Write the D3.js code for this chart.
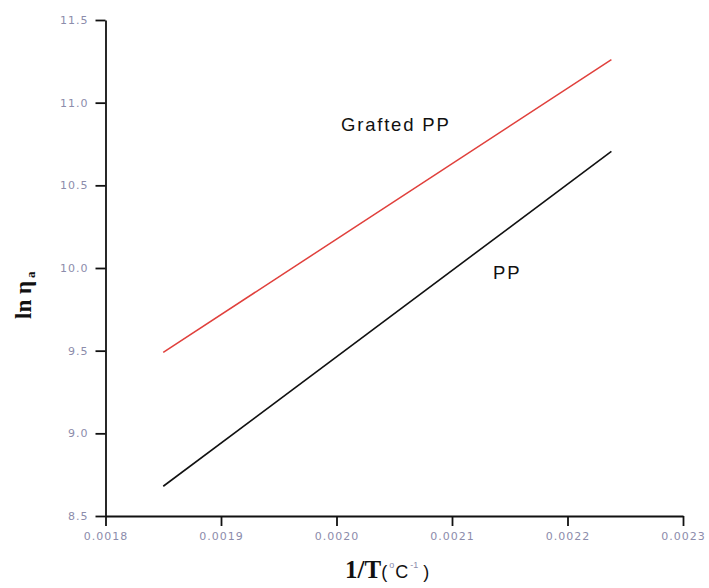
<!DOCTYPE html>
<html><head><meta charset="utf-8">
<script src="https://cdn.jsdelivr.net/npm/d3@7"></script>
<style>body{margin:0;background:#fff}svg{display:block}</style>
</head><body>
<svg id="c" width="709" height="588"></svg>
<script>
const xTicks = [0.0018, 0.0019, 0.0020, 0.0021, 0.0022, 0.0023];
const xTickLabels = ["0.0018", "0.0019", "0.0020", "0.0021", "0.0022", "0.0023"];
const yTicks = [8.5, 9.0, 9.5, 10.0, 10.5, 11.0, 11.5];
const yTickLabels = ["8.5", "9.0", "9.5", "10.0", "10.5", "11.0", "11.5"];
const invT = [0.00185, 0.002238];
const graftedPP = [9.49, 11.26];
const pp = [8.68, 10.705];
const seriesNames = ["Grafted PP", "PP"];

const svg = d3.select("#c");
const x = d3.scaleLinear().domain([0.0018, 0.0023]).range([105.5, 683]);
const y = d3.scaleLinear().domain([8.5, 11.5]).range([516, 20]);

const xMinor = [0.00185, 0.00195, 0.00205, 0.00215, 0.00225];
const yMinor = [8.75, 9.25, 9.75, 10.25, 10.75, 11.25];

const gx = svg.append("g").attr("transform", "translate(0,516)");
gx.call(d3.axisBottom(x).tickValues(xMinor).tickSize(5).tickFormat("")).call(g=>g.select(".domain").remove());
gx.call(d3.axisBottom(x).tickValues(xTicks).tickSize(10).tickSizeOuter(0).tickPadding(6)
  .tickFormat((d,i)=>xTickLabels[i]));
const gy = svg.append("g").attr("transform", "translate(105.5,0)");
gy.call(d3.axisLeft(y).tickValues(yMinor).tickSize(6).tickFormat("")).call(g=>g.select(".domain").remove());
gy.call(d3.axisLeft(y).tickValues(yTicks).tickSize(10).tickSizeOuter(0).tickPadding(7)
  .tickFormat((d,i)=>yTickLabels[i]));

svg.selectAll(".domain").attr("stroke", "#111").attr("stroke-width", 1.8);
svg.selectAll(".tick line").attr("stroke", "#111").attr("stroke-width", 1.8);
svg.selectAll(".tick text").attr("fill", "#8c8cab").attr("font-family", "DejaVu Sans, sans-serif")
  .attr("font-size", 11).attr("letter-spacing", "1px");

const line = d3.line().x(d => x(d[0])).y(d => y(d[1]));
svg.append("path").datum(invT.map((v,i)=>[v, graftedPP[i]])).attr("d", line)
  .attr("fill", "none").attr("stroke", "#e0403c").attr("stroke-width", 1.5);
svg.append("path").datum(invT.map((v,i)=>[v, pp[i]])).attr("d", line)
  .attr("fill", "none").attr("stroke", "#111").attr("stroke-width", 1.6);

svg.append("text").attr("x", 341).attr("y", 130.5).text(seriesNames[0])
  .attr("font-family", "Liberation Sans, Arial, sans-serif").attr("font-size", 18.5)
  .attr("letter-spacing", "1.8px").attr("fill", "#111");
svg.append("text").attr("x", 493).attr("y", 279).text(seriesNames[1])
  .attr("font-family", "Liberation Sans, Arial, sans-serif").attr("font-size", 18.5)
  .attr("letter-spacing", "1.8px").attr("fill", "#111");

// y title
const yt = svg.append("text").attr("transform", "translate(31,319) rotate(-90)")
  .attr("font-family", "Liberation Serif, DejaVu Serif, serif").attr("font-weight", "bold")
  .attr("font-size", 23).attr("fill", "#111");
yt.append("tspan").text("ln η");
yt.append("tspan").text("a").attr("font-size", 13).attr("dy", 4).attr("dx", 3);

// x title
const xt = svg.append("text").attr("x", 345).attr("y", 578).attr("fill", "#111");
xt.append("tspan").text("1/T").attr("font-family", "Liberation Serif, DejaVu Serif, serif")
  .attr("font-weight", "bold").attr("font-size", 25);
xt.append("tspan").text("(").attr("font-family", "Liberation Sans, sans-serif").attr("font-size", 18);
xt.append("tspan").text("o").attr("font-family", "Liberation Sans, sans-serif").attr("font-size", 9)
  .attr("dy", -10).attr("dx", 2).attr("fill", "#8c8cab");
xt.append("tspan").text("C").attr("font-family", "Liberation Sans, sans-serif").attr("font-size", 18)
  .attr("dy", 10).attr("dx", 1);
xt.append("tspan").text("-1").attr("font-family", "Liberation Sans, sans-serif").attr("font-size", 9)
  .attr("dy", -10).attr("dx", 2).attr("fill", "#8c8cab");
xt.append("tspan").text(")").attr("font-family", "Liberation Sans, sans-serif").attr("font-size", 18)
  .attr("dy", 10).attr("dx", 5);
</script>
</body></html>
